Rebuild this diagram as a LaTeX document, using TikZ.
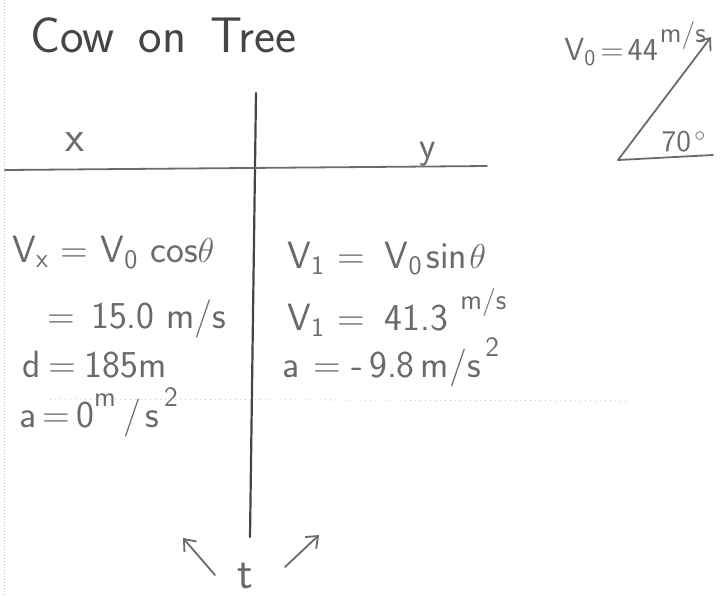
\documentclass[tikz,border=0pt]{standalone}
\usepackage{amsmath}
\usepackage{xcolor}
\usetikzlibrary{arrows.meta}
\definecolor{pencil}{HTML}{6A6A6A}
\definecolor{pencildark}{HTML}{454545}
\newcommand{\unitsup}[1]{\raisebox{0.55em}{\fontsize{14}{14}\selectfont #1}}

\begin{document}
\begin{tikzpicture}[x=0.5pt, y=-0.5pt,
  every node/.style={inner sep=1pt, text=pencil, font=\sffamily\fontsize{19}{21}\selectfont},
  row/.style={anchor=base west},
  stroke/.style={draw=pencil, line width=0.9pt, line cap=round},
  >={Straight Barb[length=5pt, width=8pt]}]
\useasboundingbox (0,0) rectangle (726,596);

% scan edge and faint ruled line
\draw[black!25, densely dotted, line width=0.5pt] (4,0) -- (4,596);
\draw[black!20, dotted, line width=0.5pt] (50,399) -- (630,401);

% title
\node (title) [anchor=base west, text=pencildark, font=\sffamily\fontsize{25}{28}\selectfont] at (28,52) {Cow\hspace{12pt}on\hspace{12pt}Tree};

% table lines
\coordinate (vtop) at (256,93);
\coordinate (vbot) at (250,537);
\coordinate (hleft) at (5,170);
\coordinate (hright) at (487,166);
\draw[stroke, draw=pencildark, line width=1.1pt] (vtop) -- (vbot);
\draw[stroke] (hleft) -- (hright);

\node (xhead) [font=\sffamily\fontsize{22}{24}\selectfont] at (75,142) {x};
\node (yhead) at (428,154) {y};

% initial velocity sketch
\node (vzero) [anchor=base west, font=\sffamily\fontsize{16}{18}\selectfont] at (562,60) {V\textsubscript{0}\hspace{2pt}=\hspace{2pt}44\hspace{1pt}\unitsup{m/s}};
\coordinate (tail) at (618,160);
\coordinate (tip) at (711,37);
\coordinate (base) at (713,155);
\draw[stroke, ->] (tail) -- (tip);
\draw[stroke] (tail) -- (base);
\node (angle) [font=\sffamily\fontsize{15}{17}\selectfont] at (684,142) {70\textsuperscript{\,$\circ$}};

% x column
\node (vx) [row] at (10,262) {V\textsubscript{x} = V\textsubscript{0} cos$\theta$};
\node (vxval) [row] at (45,328) {=\hspace{8pt}15.0\hspace{6pt}m/s};
\node (dist) [row] at (20,377) {d\hspace{4pt}=\hspace{4pt}185m};
\node (ax) [row] at (17,427) {a\hspace{3pt}=\hspace{3pt}0\unitsup{m}\hspace{4pt}/\hspace{2pt}s\unitsup{\,2}};

% y column
\node (vy) [row] at (285,268) {V\textsubscript{1}\hspace{6pt}=\hspace{10pt}V\textsubscript{0}\hspace{2pt}sin\hspace{1pt}$\theta$};
\node (vyval) [row] at (285,330) {V\textsubscript{1}\hspace{6pt}=\hspace{10pt}41.3\hspace{6pt}\unitsup{m/s}};
\node (ay) [row] at (280,377) {a\hspace{7pt}=\hspace{5pt}-\hspace{3pt}9.8\hspace{3pt}m/s\unitsup{\,2}};

% shared time
\node (time) [font=\sffamily\fontsize{23}{25}\selectfont] at (245,576) {t};
\coordinate (tlstart) at (215,575);
\coordinate (tlend) at (183,538);
\coordinate (trstart) at (285,567);
\coordinate (trend) at (319,535);
\draw[stroke, ->] (tlstart) -- (tlend);
\draw[stroke, ->] (trstart) -- (trend);
\end{tikzpicture}
\end{document}
